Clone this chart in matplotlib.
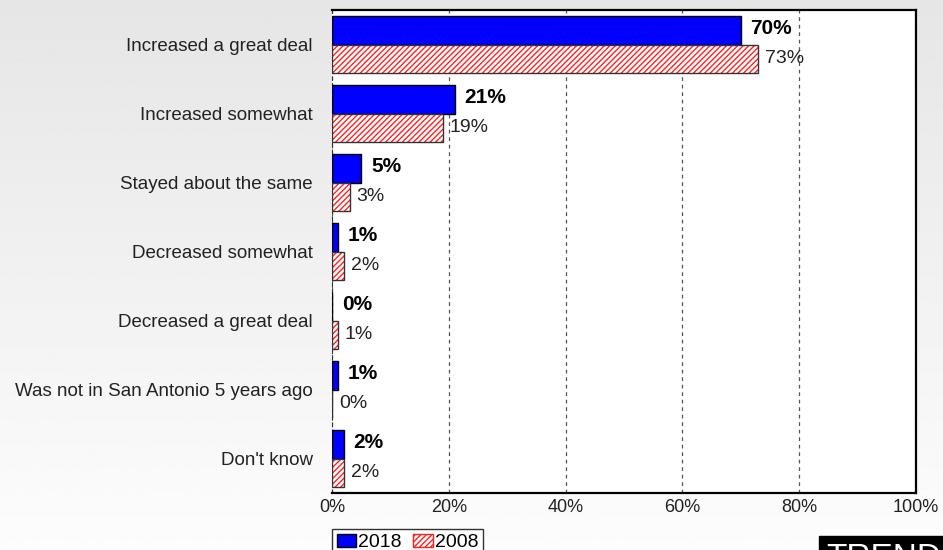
import numpy as np
import matplotlib.pyplot as plt
from matplotlib.patches import Patch

plt.rcParams['font.family'] = ['Liberation Sans', 'DejaVu Sans']

categories = ['Increased a great deal', 'Increased somewhat', 'Stayed about the same',
              'Decreased somewhat', 'Decreased a great deal',
              'Was not in San Antonio 5 years ago', "Don't know"]
vals_2018 = [70, 21, 5, 1, 0, 1, 2]
vals_2008 = [73, 19, 3, 2, 1, 0, 2]
xticks = [0, 20, 40, 60, 80, 100]

fig = plt.figure(figsize=(9.43, 5.5), dpi=100)

# gradient background
bg = fig.add_axes([0, 0, 1, 1], zorder=-10)
grad = np.linspace(0.90, 0.99, 256).reshape(-1, 1)
bg.imshow(grad, aspect='auto', cmap='gray', vmin=0, vmax=1, extent=[0, 1, 0, 1])
bg.axis('off')

ax = fig.add_axes([332 / 943, 1 - 493 / 550, 584 / 943, 483 / 550])
ax.set_facecolor('white')

y = np.arange(len(categories))
h = 0.42
ax.barh(y - h / 2, vals_2018, height=h, color='#0000ff', edgecolor='black', linewidth=1, zorder=3)
# hatched bars: fill with red hatch, then a dark outline on top
ax.barh(y + h / 2, vals_2008, height=h, color='white', edgecolor='#ff2020', hatch='//////',
        linewidth=0, zorder=3)
ax.barh(y + h / 2, vals_2008, height=h, fill=False, edgecolor='#333333', linewidth=1, zorder=4)

for yi, v in zip(y, vals_2018):
    ax.annotate(f'{v}%', (v, yi - h / 2), xytext=(7, 1), textcoords='offset points',
                ha='left', va='center', fontsize=15, fontweight='bold', zorder=5)
for yi, v in zip(y, vals_2008):
    ax.annotate(f'{v}%', (v, yi + h / 2), xytext=(5, 0), textcoords='offset points',
                ha='left', va='center', fontsize=14, color='#222222', zorder=5)

ax.set_xlim(0, 100)
ax.set_ylim(len(categories) - 0.5, -0.5)
ax.set_xticks(xticks)
ax.set_xticklabels([f'{t}%' for t in xticks], fontsize=13, color='#222222')
ax.set_yticks(y)
ax.set_yticklabels(categories, fontsize=13.5, color='#222222')
ax.tick_params(axis='both', length=0)
ax.tick_params(axis='y', pad=14)
ax.tick_params(axis='x', pad=4)
ax.grid(axis='x', linestyle=(0, (3, 3)), color='#555555', linewidth=0.9, zorder=1)
for s in ['top', 'right', 'bottom']:
    ax.spines[s].set_linewidth(1.6)
    ax.spines[s].set_color('black')
ax.spines['left'].set_linestyle((0, (3, 3)))
ax.spines['left'].set_color('#333333')

handles = [Patch(facecolor='#0000ff', edgecolor='black', label='2018'),
           Patch(facecolor='white', edgecolor='#ff2020', hatch='//////', label='2008')]
leg = fig.legend(handles=handles, loc='upper left', bbox_to_anchor=(332 / 943, 1 - 529 / 550),
                 ncol=2, frameon=True, fancybox=False, fontsize=14, handlelength=1.0,
                 handleheight=0.7, handletextpad=0.1, columnspacing=0.6, borderpad=0.25,
                 borderaxespad=0)
leg.get_frame().set_edgecolor('black')
leg.get_frame().set_linewidth(1.0)

fig.text(826 / 943, 1 - 543 / 550, 'TREND', color='white', fontsize=24, ha='left', va='top',
         bbox=dict(boxstyle='square,pad=0.2', facecolor='black', edgecolor='black'))

fig.savefig('out.png', dpi=100)
